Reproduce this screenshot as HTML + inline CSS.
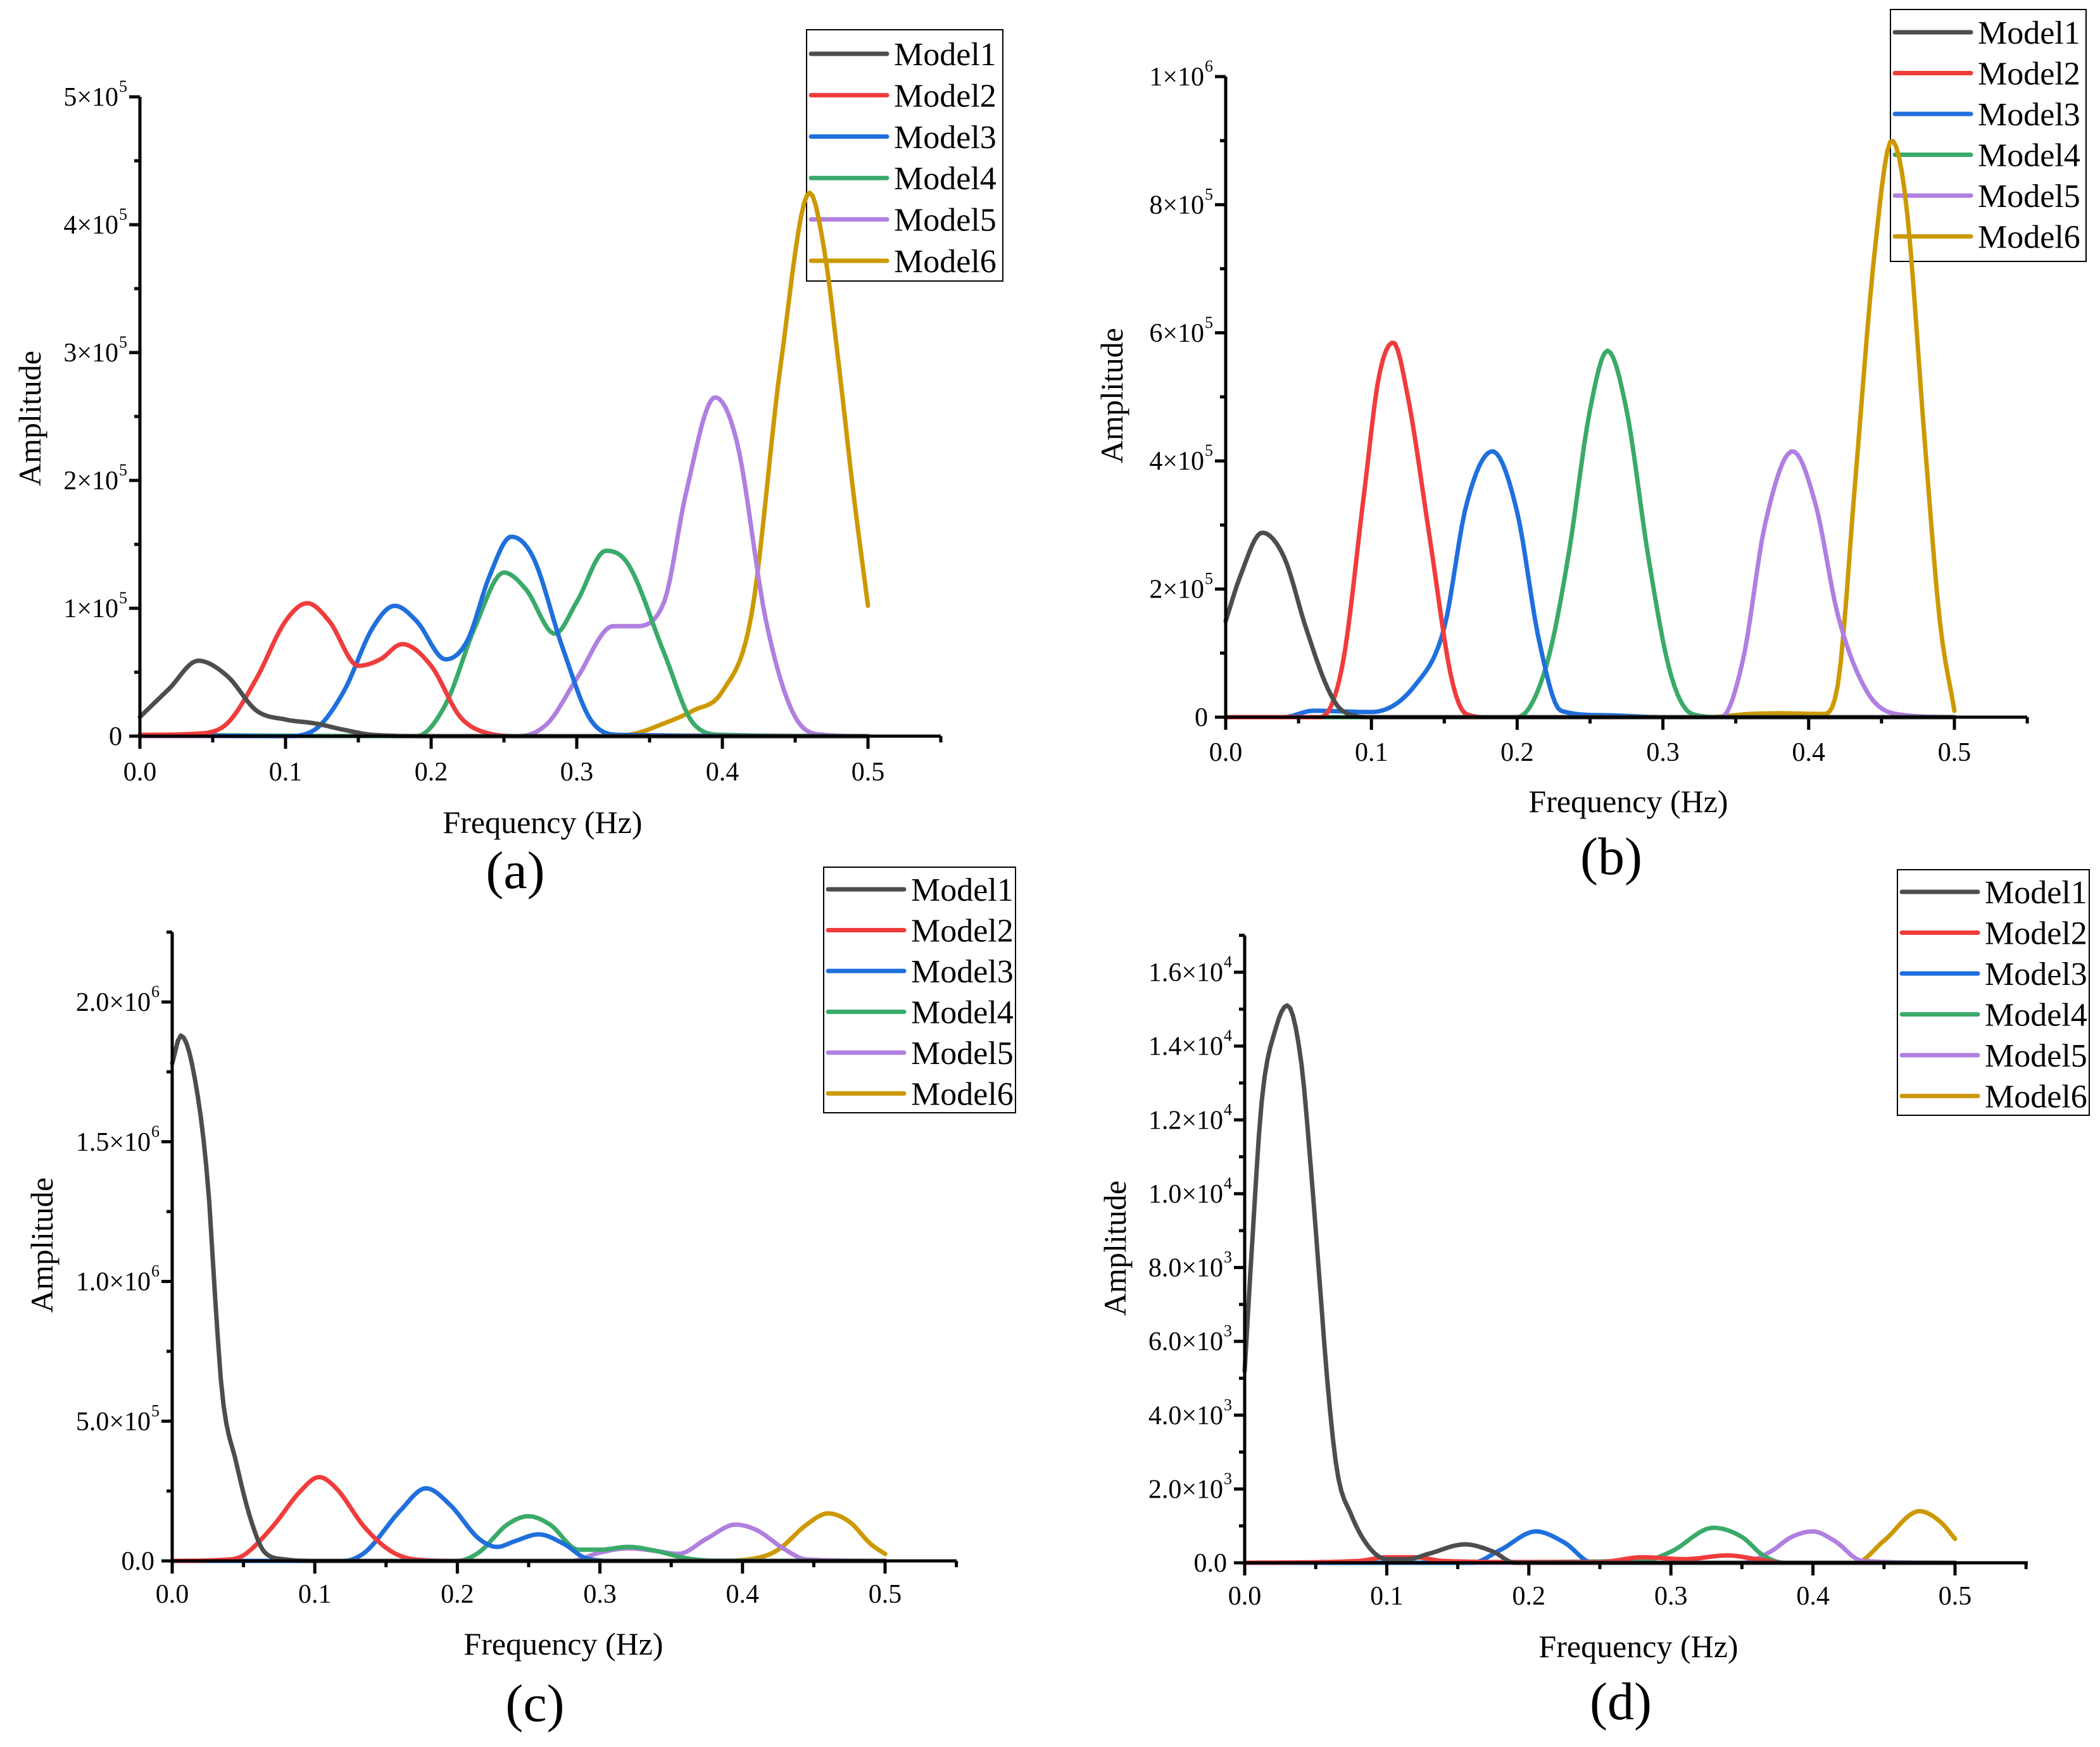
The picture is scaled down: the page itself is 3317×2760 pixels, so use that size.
<!DOCTYPE html>
<html><head><meta charset="utf-8">
<style>
html,body{margin:0;padding:0;background:#fff;}
svg{display:block;}
text{font-family:"Liberation Serif",serif;fill:#000;}
</style></head>
<body>
<svg id="fig" width="3317" height="2760" viewBox="0 0 3317 2760" xmlns="http://www.w3.org/2000/svg"></svg>
<script>
// ---------- DATA ----------
const seriesNames = ["Model1","Model2","Model3","Model4","Model5","Model6"];
const seriesColors = ["#4d4d4d","#f03c3c","#1f6fdd","#3aaa6a","#b07fe0","#cc9900"];

// Panel (a): amplitude in units of 1e5
const aF1=[0,0.02,0.04,0.06,0.08,0.1,0.12,0.14,0.16,0.2,0.5];
const aV1=[0.15,0.37,0.59,0.47,0.2,0.13,0.1,0.05,0.01,0,0];
const aF2=[0,0.04,0.06,0.08,0.1,0.115,0.13,0.15,0.165,0.18,0.2,0.22,0.24,0.26,0.5];
const aV2=[0.01,0.02,0.1,0.45,0.9,1.04,0.9,0.55,0.6,0.72,0.55,0.15,0.02,0,0];
const aF3=[0,0.1,0.12,0.14,0.16,0.175,0.19,0.21,0.225,0.24,0.255,0.27,0.29,0.31,0.33,0.5];
const aV3=[0.01,0,0.05,0.35,0.85,1.02,0.9,0.6,0.75,1.25,1.56,1.4,0.7,0.12,0.01,0];
const aF4=[0,0.19,0.21,0.23,0.25,0.265,0.285,0.3,0.32,0.335,0.36,0.38,0.4,0.5];
const aV4=[0.01,0,0.25,0.85,1.28,1.15,0.8,1.05,1.45,1.35,0.65,0.1,0.01,0];
const aF5=[0,0.26,0.28,0.3,0.325,0.34,0.36,0.375,0.395,0.41,0.43,0.45,0.47,0.5];
const aV5=[0,0,0.1,0.45,0.86,0.86,1.05,1.9,2.65,2.3,0.9,0.15,0.01,0];
const aF6=[0,0.32,0.34,0.36,0.38,0.4,0.42,0.44,0.46,0.47,0.48,0.49,0.5];
const aV6=[0,0,0.02,0.1,0.2,0.35,0.95,2.9,4.25,3.8,2.9,1.9,1.02];

// Panel (b): units of 1e5
const bF1=[0,0.01,0.025,0.04,0.055,0.07,0.08,0.1,0.5];
const bV1=[1.5,2.2,2.88,2.5,1.4,0.45,0.1,0,0];
const bF2=[0,0.065,0.08,0.095,0.105,0.115,0.125,0.14,0.155,0.165,0.18,0.5];
const bV2=[0,0,0.8,3.5,5.3,5.85,5.0,2.8,0.6,0.05,0,0];
const bF3=[0,0.04,0.06,0.1,0.13,0.15,0.165,0.183,0.2,0.215,0.23,0.26,0.3,0.5];
const bV3=[0,0,0.1,0.08,0.5,1.4,3.3,4.15,3.2,1.2,0.1,0.03,0,0];
const bF4=[0,0.2,0.22,0.235,0.25,0.262,0.275,0.29,0.305,0.32,0.34,0.5];
const bV4=[0,0,0.8,2.5,4.8,5.72,4.8,2.5,0.7,0.05,0,0];
const bF5=[0,0.34,0.355,0.37,0.389,0.405,0.42,0.44,0.46,0.5];
const bV5=[0,0,0.9,3.0,4.15,3.3,1.6,0.4,0.05,0];
const bF6=[0,0.33,0.36,0.38,0.41,0.42,0.432,0.445,0.457,0.467,0.48,0.49,0.5];
const bV6=[0,0,0.05,0.06,0.05,0.5,3.7,7.2,9.0,8.0,4.2,1.5,0.1];

// Panel (c): units of 1e5
const cF1=[0,0.006,0.015,0.025,0.03,0.035,0.045,0.055,0.065,0.08,0.1,0.5];
const cV1=[17.8,18.8,17.5,13.5,9.5,6.0,3.5,1.5,0.3,0.05,0,0];
const cF2=[0,0.04,0.05,0.07,0.09,0.103,0.115,0.135,0.155,0.175,0.2,0.5];
const cV2=[0,0.05,0.2,1.2,2.5,3.0,2.6,1.2,0.3,0.03,0,0];
const cF3=[0,0.12,0.135,0.16,0.178,0.195,0.215,0.228,0.24,0.257,0.275,0.29,0.31,0.5];
const cV3=[0,0,0.3,1.8,2.6,2.0,0.8,0.5,0.7,0.95,0.6,0.1,0,0];
const cF4=[0,0.2,0.215,0.235,0.25,0.265,0.285,0.3,0.32,0.34,0.36,0.38,0.5];
const cV4=[0,0,0.3,1.3,1.6,1.3,0.4,0.4,0.5,0.35,0.1,0.01,0];
const cF5=[0,0.28,0.3,0.32,0.34,0.355,0.375,0.395,0.41,0.43,0.445,0.5];
const cV5=[0,0,0.3,0.45,0.35,0.25,0.8,1.3,1.1,0.4,0.05,0];
const cF6=[0,0.38,0.41,0.425,0.445,0.46,0.475,0.49,0.5];
const cV6=[0,0,0.1,0.4,1.3,1.7,1.4,0.6,0.25];

// Panel (d): units of 1e3
const dF1=[0,0.005,0.012,0.022,0.03,0.04,0.047,0.053,0.058,0.065,0.075,0.088,0.1,0.115,0.13,0.155,0.175,0.19,0.5];
const dV1=[5.2,8.5,12.5,14.5,15.1,13.5,10.5,7.5,5.0,2.5,1.3,0.4,0.1,0.1,0.25,0.5,0.3,0,0];
const dF2=[0,0.08,0.1,0.12,0.14,0.2,0.25,0.28,0.31,0.34,0.36,0.38,0.5];
const dV2=[0,0.05,0.15,0.15,0.05,0.02,0.02,0.15,0.1,0.2,0.1,0,0];
const dF3=[0,0.16,0.18,0.205,0.225,0.245,0.5];
const dV3=[0,0,0.35,0.85,0.55,0,0];
const dF4=[0,0.28,0.3,0.33,0.35,0.365,0.38,0.5];
const dV4=[0,0.05,0.3,0.95,0.7,0.2,0,0];
const dF5=[0,0.35,0.37,0.385,0.4,0.415,0.435,0.5];
const dV5=[0,0,0.3,0.7,0.85,0.6,0.05,0];
const dF6=[0,0.43,0.45,0.475,0.49,0.5];
const dV6=[0,0,0.6,1.4,1.1,0.65];

// tick labels
const xTickLabels=["0.0","0.1","0.2","0.3","0.4","0.5"];
const aYTicks=[0,1,2,3,4,5];
const aYLabels=[["0",""],["1×10","5"],["2×10","5"],["3×10","5"],["4×10","5"],["5×10","5"]];
const bYTicks=[0,2,4,6,8,10];
const bYLabels=[["0",""],["2×10","5"],["4×10","5"],["6×10","5"],["8×10","5"],["1×10","6"]];
const cYTicks=[0,5,10,15,20];
const cYLabels=[["0.0",""],["5.0×10","5"],["1.0×10","6"],["1.5×10","6"],["2.0×10","6"]];
const dYTicks=[0,2,4,6,8,10,12,14,16];
const dYLabels=[["0.0",""],["2.0×10","3"],["4.0×10","3"],["6.0×10","3"],["8.0×10","3"],["1.0×10","4"],["1.2×10","4"],["1.4×10","4"],["1.6×10","4"]];

// ---------- LAYOUT ----------
const panels=[
 {id:"a",x0:221,x5:1371,xEnd:1486,y0:1163,yTopVal:5,yRefVal:5,yRef:153,yMinorStep:0.5,yTicks:aYTicks,yLabels:aYLabels,
  F:[aF1,aF2,aF3,aF4,aF5,aF6],V:[aV1,aV2,aV3,aV4,aV5,aV6],
  tickY:1219,title:[857,1299],label:[814,1375],amp:[47,661],leg:[1274,47,310,397],legRow0:85,legStep:65.4},
 {id:"b",x0:1936,x5:3087,xEnd:3202,y0:1133,yTopVal:10,yRefVal:10,yRef:121,yMinorStep:1,yTicks:bYTicks,yLabels:bYLabels,
  F:[bF1,bF2,bF3,bF4,bF5,bF6],V:[bV1,bV2,bV3,bV4,bV5,bV6],
  tickY:1188,title:[2572,1266],label:[2545,1353],amp:[1756,625],leg:[2986,15,309,398],legRow0:51,legStep:64.5},
 {id:"c",x0:272,x5:1398,xEnd:1511,y0:2466,yTopVal:22.5,yRefVal:20,yRef:1583,yMinorStep:2.5,yTicks:cYTicks,yLabels:cYLabels,
  F:[cF1,cF2,cF3,cF4,cF5,cF6],V:[cV1,cV2,cV3,cV4,cV5,cV6],
  tickY:2518,title:[890,2597],label:[845,2691],amp:[66,1967],leg:[1301,1370,303,388],legRow0:1405,legStep:64.5},
 {id:"d",x0:1966,x5:3088,xEnd:3203,y0:2469,yTopVal:17,yRefVal:16,yRef:1536,yMinorStep:1,yTicks:dYTicks,yLabels:dYLabels,
  F:[dF1,dF2,dF3,dF4,dF5,dF6],V:[dV1,dV2,dV3,dV4,dV5,dV6],
  tickY:2521,title:[2588,2601],label:[2560,2688],amp:[1761,1972],leg:[2997,1374,303,388],legRow0:1409,legStep:64.5}
];

const NS="http://www.w3.org/2000/svg";
const svg=document.getElementById("fig");
function mk(tag,attrs,parent){const e=document.createElementNS(NS,tag);for(const k in attrs)e.setAttribute(k,attrs[k]);(parent||svg).appendChild(e);return e;}

// monotone cubic interpolation (Fritsch-Carlson)
function monotone(xs,ys){
  const n=xs.length,d=[],m=new Array(n);
  for(let i=0;i<n-1;i++)d.push((ys[i+1]-ys[i])/(xs[i+1]-xs[i]));
  m[0]=d[0];m[n-1]=d[n-2];
  for(let i=1;i<n-1;i++){m[i]=(d[i-1]*d[i]<=0)?0:(d[i-1]+d[i])/2;}
  for(let i=0;i<n-1;i++){if(d[i]===0){m[i]=0;m[i+1]=0;continue;}const a=m[i]/d[i],b=m[i+1]/d[i],s=a*a+b*b;if(s>9){const t=3/Math.sqrt(s);m[i]=t*a*d[i];m[i+1]=t*b*d[i];}}
  return function(x){let i=0;while(i<n-2&&x>xs[i+1])i++;const h=xs[i+1]-xs[i],t=(x-xs[i])/h,t2=t*t,t3=t2*t;
    return (2*t3-3*t2+1)*ys[i]+(t3-2*t2+t)*h*m[i]+(-2*t3+3*t2)*ys[i+1]+(t3-t2)*h*m[i+1];};
}

panels.forEach(p=>{
  const g=mk("g",{});
  
  
  const xs=v=>p.x0+(p.x5-p.x0)*v/0.5;
  const ys=v=>p.y0-(p.y0-p.yRef)*v/p.yRefVal;
  const yTop=ys(p.yTopVal);

  // legend (drawn first so curves pass over it)
  const lg=mk("g",{},g);
  
  
  mk("rect",{x:p.leg[0],y:p.leg[1],width:p.leg[2],height:p.leg[3],fill:"#fff",stroke:"#000","stroke-width":2},lg);
  seriesNames.forEach((nm,i)=>{
    const y=p.legRow0+i*p.legStep;
    const e=mk("g",{},lg);
    
    
    mk("line",{x1:p.leg[0]+7,y1:y,x2:p.leg[0]+127,y2:y,stroke:seriesColors[i],"stroke-width":7,"stroke-linecap":"round"},e);
    const t=mk("text",{x:p.leg[0]+138,y:y+18,"font-size":52},e);
    t.textContent=nm;
  });

  // series
  const sg=mk("g",{},g);
  
  
  for(let s=5;s>=0;s--){
    const f=monotone(p.F[s],p.V[s]);
    let d="";
    for(let i=0;i<=250;i++){const fx=0.5*i/250;const v=Math.max(0,f(fx));d+=(i?"L":"M")+xs(fx).toFixed(1)+","+ys(v).toFixed(1);}
    const path=mk("path",{d:d,fill:"none",stroke:seriesColors[s],"stroke-width":7,"stroke-linejoin":"round","stroke-linecap":"round"},sg);
    
    
  }

  // axes
  const ax=mk("g",{stroke:"#000","stroke-width":5,fill:"none"},g);
  
  
  mk("line",{x1:p.x0,y1:p.y0,x2:p.xEnd,y2:p.y0},ax);
  mk("line",{x1:p.x0,y1:p.y0+2,x2:p.x0,y2:yTop},ax);
  for(let i=0;i<=11;i++){const x=xs(i*0.05);mk("line",{x1:x,y1:p.y0,x2:x,y2:p.y0+(i%2?10:20)},ax);}
  for(let v=0;v<=p.yTopVal+1e-9;v+=p.yMinorStep){const y=ys(v);const major=p.yTicks.some(t=>Math.abs(t-v)<1e-6);mk("line",{x1:p.x0,y1:y,x2:p.x0-(major?17:9),y2:y},ax);}

  // x tick labels
  xTickLabels.forEach((lab,i)=>{
    const t=mk("text",{x:xs(i*0.1),y:p.tickY+14,"font-size":42,"text-anchor":"middle"},g);
    t.textContent=lab;
    
    
  });
  // y tick labels
  p.yTicks.forEach((v,i)=>{
    const t=mk("text",{x:p.x0-(p.yLabels[i][1]?34:28),y:ys(v)+14,"font-size":42,"text-anchor":"end"},g);
    t.textContent=p.yLabels[i][0];
    
    
    if(p.yLabels[i][1]){const s=mk("text",{x:p.x0-33,y:ys(v)-8,"font-size":26,"text-anchor":"start"},g);s.textContent=p.yLabels[i][1];
      
      }
  });
  // titles
  const xt=mk("text",{x:p.title[0],y:p.title[1]+17,"font-size":50,"text-anchor":"middle"},g);
  xt.textContent="Frequency (Hz)";
  
  
  const yt=mk("text",{x:0,y:0,"font-size":50,"text-anchor":"middle",transform:`translate(${p.amp[0]+17},${p.amp[1]}) rotate(-90)`},g);
  yt.textContent="Amplitude";
  
  
  const pl=mk("text",{x:p.label[0],y:p.label[1]+28,"font-size":84,"text-anchor":"middle"},g);
  pl.textContent="("+p.id+")";
  
  
});
</script>
</body></html>
